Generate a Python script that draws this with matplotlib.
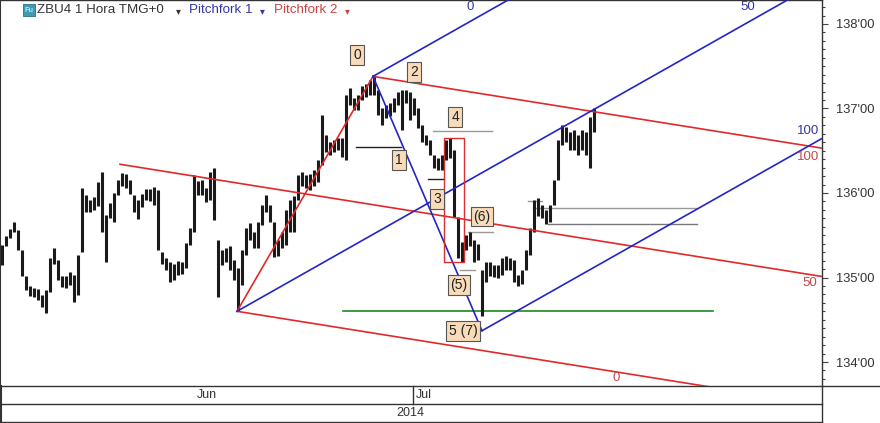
import matplotlib
matplotlib.use('Agg')
import matplotlib.pyplot as plt
import numpy as np
from matplotlib.patches import Rectangle
from matplotlib.lines import Line2D
from matplotlib.transforms import blended_transform_factory

# ---------------- data (hourly bars, compressed) ----------------
highs = [
    135.39, 135.49, 135.57, 135.66, 135.56, 135.33, 135.02, 134.90, 134.88, 134.86,
    134.79, 134.85, 135.23, 135.35, 135.21, 135.02, 135.02, 135.07, 135.03, 135.27,
    136.06, 135.98, 135.92, 135.95, 136.13, 136.25, 135.74, 135.88, 136.00, 136.15,
    136.24, 136.23, 136.15, 135.98, 135.92, 135.99, 136.05, 136.05, 136.07, 136.04,
    135.30, 135.23, 135.18, 135.16, 135.20, 135.18, 135.41, 135.59, 136.21, 136.14,
    136.15, 136.06, 136.25, 136.30, 135.44, 135.33, 135.35, 135.37, 135.21, 135.11,
    135.33, 135.59, 135.65, 135.54, 135.66, 135.86, 135.98, 135.86, 135.66, 135.44,
    135.54, 135.80, 135.92, 135.96, 136.21, 136.25, 136.21, 136.23, 136.27, 136.39,
    136.92, 136.69, 136.60, 136.63, 136.65, 136.65, 137.16, 137.24, 137.12, 137.16,
    137.27, 137.29, 137.34, 137.38, 137.22, 137.01, 137.04, 137.07, 137.12, 137.20,
    137.22, 137.22, 137.20, 137.12, 137.01, 136.80, 136.69, 136.63, 136.45, 136.41,
    136.45, 136.63, 136.65, 136.51, 135.72, 135.42, 135.50, 135.54, 135.44, 135.40,
    135.09, 135.18, 135.18, 135.15, 135.15, 135.23, 135.25, 135.23, 135.21, 135.03,
    135.09, 135.33, 135.59, 135.92, 135.94, 135.86, 135.80, 135.86, 136.15, 136.63,
    136.80, 136.78, 136.72, 136.75, 136.69, 136.75, 136.72, 136.90, 137.01,
]
lows = [
    135.15, 135.37, 135.47, 135.54, 135.33, 135.02, 134.85, 134.78, 134.77, 134.73,
    134.65, 134.58, 134.83, 135.16, 134.97, 134.89, 134.88, 134.91, 134.71, 134.79,
    135.30, 135.78, 135.78, 135.80, 135.85, 135.54, 135.18, 135.70, 135.66, 135.98,
    136.08, 136.06, 135.99, 135.78, 135.69, 135.83, 135.92, 135.91, 135.86, 135.33,
    135.16, 135.09, 134.95, 134.97, 135.03, 135.04, 135.11, 135.39, 135.54, 135.98,
    135.98, 135.89, 135.92, 135.68, 134.77, 135.15, 135.18, 135.09, 134.97, 134.60,
    134.91, 135.27, 135.44, 135.35, 135.35, 135.62, 135.78, 135.66, 135.24, 135.25,
    135.35, 135.39, 135.54, 135.54, 135.92, 136.08, 136.06, 136.04, 136.08, 136.13,
    136.33, 136.49, 136.45, 136.49, 136.51, 136.43, 136.39, 137.04, 136.98, 136.98,
    137.10, 137.14, 137.16, 137.16, 136.92, 136.80, 136.89, 136.91, 136.96, 137.04,
    136.75, 137.07, 136.86, 136.92, 136.77, 136.60, 136.57, 136.45, 136.30, 136.27,
    136.27, 136.39, 136.41, 135.72, 135.23, 135.18, 135.33, 135.37, 135.18, 135.21,
    134.54, 134.95, 135.02, 135.01, 134.99, 135.03, 135.09, 135.09, 134.95, 134.90,
    134.92, 135.09, 135.27, 135.54, 135.73, 135.70, 135.63, 135.66, 135.86, 136.15,
    136.57, 136.60, 136.51, 136.51, 136.45, 136.51, 136.45, 136.30, 136.72,
]

# pitchfork pivots (bar index, price)
pivot_a_red = (29.5, 136.34)     # June high
pivot_june_low = (58.75, 134.60)
pivot_top = (92.75, 137.38)
pivot_july_low = (120.0, 134.37)

# wave labels: text, bar index, price
wave_labels = ["0", "2", "4", "1", "3", "(6)", "(5)", "5 (7)"]
wave_x = [88.75, 103.0, 113.25, 99.25, 108.75, 120.0, 114.25, 115.25]
wave_p = [137.63, 137.43, 136.90, 136.39, 135.93, 135.72, 134.91, 134.37]

# horizontal level marks: x0, x1, price, color
level_x0 = [88.5, 107.75, 106.5, 116.5, 114.5, 131.5, 132.75, 136.5]
level_x1 = [99.75, 122.5, 110.5, 122.75, 118.25, 135.0, 173.75, 173.75]
level_p = [136.54, 136.73, 136.17, 135.54, 135.09, 135.90, 135.82, 135.63]
level_c = ['#222222', '#999999', '#222222', '#999999', '#999999', '#999999', '#999999', '#777777']

green_level = 134.60
green_x = (85.25, 177.75)
rect_x = (110.5, 115.5)
rect_p = (135.18, 136.65)

jul_start = 102.75
y_major = [134, 135, 136, 137, 138]

# ---------------- figure ----------------
W, H = 880, 423
fig = plt.figure(figsize=(W / 100, H / 100), dpi=100)
fig.patch.set_facecolor('white')
ax = fig.add_axes([0, 1 - 386 / H, 822 / W, 386 / H])
XMIN, XMAX = -0.5, 205.0
YMIN, YMAX = 133.716, 138.284
ax.set_xlim(XMIN, XMAX)
ax.set_ylim(YMIN, YMAX)

FONT = ['Liberation Sans', 'Arial', 'DejaVu Sans']
BLUE = '#2424c8'
RED = '#e02a2a'

# bars
xs = np.arange(len(highs))
ax.vlines(xs, lows, highs, color='#1a1a1a', lw=2.2, zorder=3)

# pitchfork lines
def seg(p0, slope, x_end):
    return [p0[0], x_end], [p0[1], p0[1] + slope * (x_end - p0[0])]

XE = 215
# red pitchfork
mid_r = ((pivot_june_low[0] + pivot_top[0]) / 2, (pivot_june_low[1] + pivot_top[1]) / 2)
s_r = (mid_r[1] - pivot_a_red[1]) / (mid_r[0] - pivot_a_red[0])
for p in (pivot_a_red, pivot_top, pivot_june_low):
    ax.plot(*seg(p, s_r, XE), color=RED, lw=1.2, zorder=4)
ax.plot([pivot_june_low[0], pivot_top[0]], [pivot_june_low[1], pivot_top[1]], color=RED, lw=1.2, zorder=4)

# blue pitchfork
mid_b = ((pivot_top[0] + pivot_july_low[0]) / 2, (pivot_top[1] + pivot_july_low[1]) / 2)
s_b = (mid_b[1] - pivot_june_low[1]) / (mid_b[0] - pivot_june_low[0])
for p in (pivot_june_low, pivot_top, pivot_july_low):
    ax.plot(*seg(p, s_b, XE), color=BLUE, lw=1.2, zorder=4)
ax.plot([pivot_top[0], pivot_july_low[0]], [pivot_top[1], pivot_july_low[1]], color=BLUE, lw=1.2, zorder=4)

# levels
for x0, x1, p, c in zip(level_x0, level_x1, level_p, level_c):
    ax.plot([x0, x1], [p, p], color=c, lw=1.0, zorder=2)
ax.plot(green_x, [green_level, green_level], color='#1a8a1a', lw=1.2, zorder=2)
ax.add_patch(Rectangle((rect_x[0], rect_p[0]), rect_x[1] - rect_x[0], rect_p[1] - rect_p[0],
                       fill=False, ec='#d83030', lw=1.0, zorder=5))

# wave labels
for t, x, p in zip(wave_labels, wave_x, wave_p):
    ax.text(x, p, t, ha='center', va='center', fontsize=10, family=FONT, color='#222222', zorder=6,
            bbox=dict(boxstyle='square,pad=0.2', fc='#f8dbb8', ec='#555555', lw=0.8))

# fork level labels
lbl = dict(fontsize=9.5, family=FONT, ha='center', va='center', zorder=6)
ax.text(117.0, 138.20, '0', color='#3535a8', **lbl)
ax.text(186.5, 138.20, '50', color='#3535a8', **lbl)
ax.text(201.5, 136.73, '100', color='#3535a8', **lbl)
ax.text(201.5, 136.43, '100', color='#c84545', **lbl)
ax.text(202.0, 134.93, '50', color='#c84545', **lbl)
ax.text(153.5, 133.81, '0', color='#c84545', **lbl)

# axes styling
ax.set_xticks([])
ax.yaxis.tick_right()
ax.set_yticks(y_major)
ax.set_yticklabels([f"{v}'00" for v in y_major], family=FONT, fontsize=9.3, color='#333333')
ax.set_yticks(np.arange(133.8, 138.25, 0.1), minor=True)
ax.tick_params(axis='y', which='major', length=4, width=0.8, color='#444444', pad=6, direction='out')
ax.tick_params(axis='y', which='minor', length=2, width=0.8, color='#444444', direction='out')
for side in ('left', 'right', 'bottom', 'top'):
    ax.spines[side].set_color('#333333')
    ax.spines[side].set_linewidth(1.0)
ax.spines['left'].set_linewidth(1.5)

# legend / title row
fig.add_artist(Rectangle((23 / W, 1 - 16 / H), 12 / W, 12 / H, transform=fig.transFigure,
                         fc='#3d9bb5', ec='#2a6f80', lw=0.6))
fig.text(29 / W, 1 - 10 / H, 'Fu', fontsize=5.5, color='white', ha='center', va='center', family=FONT)
fig.text(37 / W, 1 - 10 / H, 'ZBU4 1 Hora TMG+0', fontsize=9.6, color='#333333', va='center', family=FONT)
fig.text(178 / W, 1 - 11 / H, '\u25be', fontsize=7, color='#333333', va='center', ha='center', family='DejaVu Sans')
fig.text(189 / W, 1 - 10 / H, 'Pitchfork 1', fontsize=9.6, color='#3535a8', va='center', family=FONT)
fig.text(262 / W, 1 - 11 / H, '\u25be', fontsize=7, color='#3535a8', va='center', ha='center', family='DejaVu Sans')
fig.text(274 / W, 1 - 10 / H, 'Pitchfork 2', fontsize=9.6, color='#c84545', va='center', family=FONT)
fig.text(347 / W, 1 - 11 / H, '\u25be', fontsize=7, color='#c84545', va='center', ha='center', family='DejaVu Sans')

# date band
def fline(x0, y0, x1, y1, lw=1.0, c='#333333'):
    fig.add_artist(Line2D([x0 / W, x1 / W], [1 - y0 / H, 1 - y1 / H], transform=fig.transFigure,
                          color=c, lw=lw))

fline(822, 386, 880, 386)
fline(0, 404, 822, 404)
fline(0, 421.5, 822, 421.5)
fline(822, 386, 822, 423)
fline(0.7, 386, 0.7, 423, lw=1.5)

tr = blended_transform_factory(ax.transData, fig.transFigure)
fig.add_artist(Line2D([jul_start, jul_start], [1 - 386 / H, 1 - 404 / H], transform=tr, color='#333333', lw=1.0))
fig.text((XMIN + jul_start) / 2, 1 - 395 / H, 'Jun', transform=tr, ha='center', va='center',
         fontsize=9, color='#333333', family=FONT)
fig.text(jul_start + 0.8, 1 - 395 / H, 'Jul', transform=tr, ha='left', va='center',
         fontsize=9, color='#333333', family=FONT)
fig.text(410 / W, 1 - 413 / H, '2014', ha='center', va='center', fontsize=9, color='#333333', family=FONT)

fig.savefig('out.png', dpi=100)
